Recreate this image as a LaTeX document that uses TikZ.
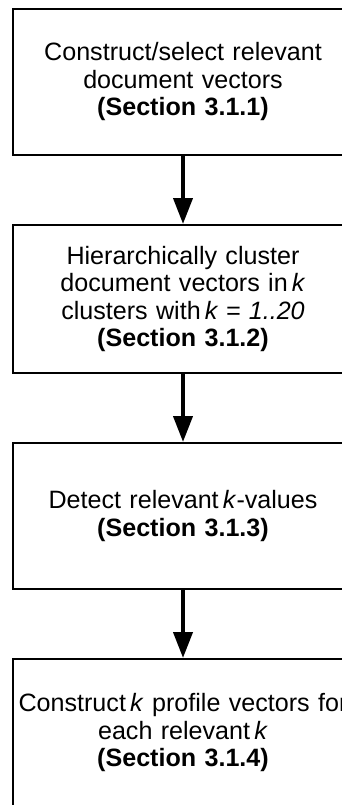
\documentclass[tikz,border=0pt]{standalone}
\usepackage{fontspec}
\setmainfont{Liberation Sans}
\usetikzlibrary{arrows.meta}
\begin{document}
\begin{tikzpicture}[x=1pt,y=-1pt,
  stepbox/.style={draw, line width=2pt, text width=340pt, inner xsep=0pt, inner ysep=0pt, align=center, font=\fontsize{25.1}{27.5}\selectfont, anchor=north},
  flow/.style={line width=4pt, -{Triangle[width=19pt,length=26pt]}}]
\useasboundingbox (0,0) rectangle (342,805);
\clip (0,0) rectangle (342,805);
\node[stepbox, minimum height=146pt] (b1) at (183,8) {Construct/select relevant\\document vectors\\\textbf{(Section 3.1.1)}};
\node[stepbox, minimum height=148pt] (b2) at (183,224) {Hierarchically cluster\\document vectors in\,\textit{k}\\clusters with\,\textit{k = 1..20}\\\textbf{(Section 3.1.2)}};
\node[stepbox, minimum height=146pt] (b3) at (183,442) {Detect relevant\,\textit{k}-values\\\textbf{(Section 3.1.3)}};
\node[stepbox, minimum height=148pt] (b4) at (183,658) {Construct\,\textit{k} profile vectors for\\each relevant\,\textit{k}\\\textbf{(Section 3.1.4)}};
\draw[flow] (b1) -- (b2);
\draw[flow] (b2) -- (b3);
\draw[flow] (b3) -- (b4);
\end{tikzpicture}
\end{document}
